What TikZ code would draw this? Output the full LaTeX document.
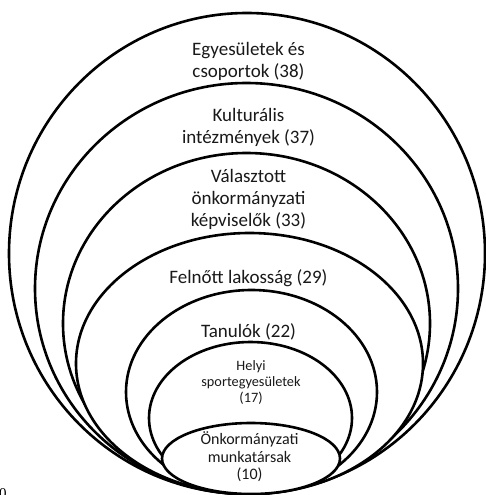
\documentclass[tikz,border=0pt]{standalone}
\usepackage{fontspec}
\setmainfont{Carlito}
\newfontfamily\serifzero{Liberation Serif}
\begin{document}
\begin{tikzpicture}[x=1pt,y=-1pt,
  ell/.style={draw=black,line width=2.6pt,fill=white},
  big/.style={font=\fontsize{19}{22}\selectfont,align=center,text=black!90,inner sep=0pt},
  small/.style={font=\fontsize{14.3}{16}\selectfont,align=center,text=black!90,inner sep=0pt},
  mid/.style={font=\fontsize{16}{17.5}\selectfont,align=center,text=black!90,inner sep=0pt}]
\useasboundingbox (0,0) rectangle (486,495);
\fill[white] (0,0) rectangle (486,495);
\draw[ell] (247,253.5) ellipse [x radius=238, y radius=240.5];
\draw[ell] (246.5,288.5) ellipse [x radius=211.5, y radius=205.5];
\draw[ell] (246.5,323.5) ellipse [x radius=183.5, y radius=170.5];
\draw[ell] (249.5,363.5) ellipse [x radius=173.5, y radius=130.5];
\draw[ell] (251.5,392) ellipse [x radius=125.5, y radius=102];
\draw[ell] (250.5,418) ellipse [x radius=101.5, y radius=76];
\draw[ell] (251,458.5) ellipse [x radius=89, y radius=35.5];
\node[big] (t1) at (248.5,61) {Egyesületek és\\csoportok (38)};
\node[big] (t2) at (248.5,127) {Kulturális\\intézmények (37)};
\node[big] (t3) at (248.5,199.5) {Választott\\önkormányzati\\képviselők (33)};
\node[big] (t4) at (248.5,278) {Felnőtt lakosság (29)};
\node[big] (t5) at (248.5,332) {Tanulók (22)};
\node[small] (t6) at (251,382.5) {Helyi\\sportegyesületek\\(17)};
\node[mid] (t7) at (249.5,457) {Önkormányzati\\munkatársak\\(10)};
\node[font=\serifzero\fontsize{15}{15}\selectfont,anchor=north west,inner sep=0pt] (z) at (-1,488) {0};
\end{tikzpicture}
\end{document}
